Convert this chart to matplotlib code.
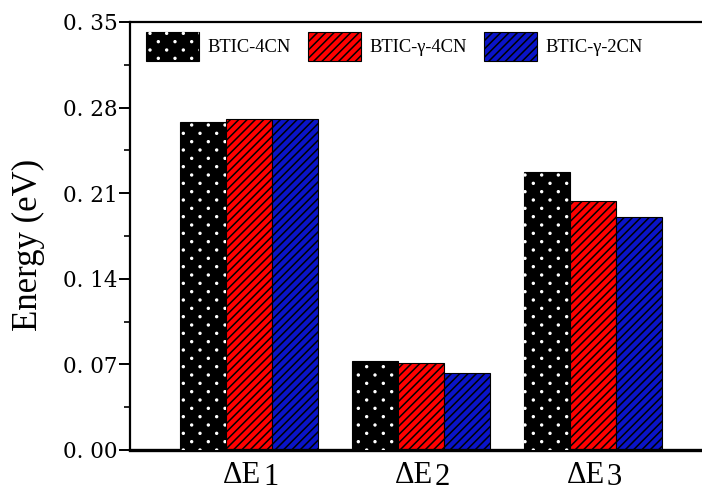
import numpy as np
import matplotlib
matplotlib.use("Agg")
import matplotlib.pyplot as plt
import matplotlib.hatch as mhatch
import matplotlib.transforms as mtransforms
from matplotlib.path import Path
from matplotlib.legend_handler import HandlerTuple
from matplotlib.ticker import MultipleLocator, FuncFormatter

# ---- data ----
categories = ["1", "2", "3"]          # subscripts of ΔE
series_names = ["BTIC-4CN", "BTIC-γ-4CN", "BTIC-γ-2CN"]
btic_4cn = [0.2682, 0.0730, 0.2273]
btic_g4cn = [0.2704, 0.0709, 0.2034]
btic_g2cn = [0.2704, 0.0627, 0.1903]
y_ticks = [0.00, 0.07, 0.14, 0.21, 0.28, 0.35]


# Staggered dot texture: rows at half spacing, alternating half-column shift.
class StaggeredDots(mhatch.HatchPatternBase):
    size = 0.055

    def __init__(self, hatch, density):
        n = hatch.count('.') * density
        self.num_rows = n
        self.circle = Path.unit_circle()
        pts = []
        if n:
            for r in range(2 * n + 1):
                y = r / (2 * n)
                if r % 2 == 0:
                    xs = np.linspace(0, 1, n + 1)
                else:
                    xs = np.linspace(0.5 / n, 1 - 0.5 / n, n)
                for x in xs:
                    pts.append((x, y))
        self.pts = pts
        self.num_vertices = len(pts) * len(self.circle.vertices)

    def set_vertices_and_codes(self, vertices, codes):
        n = self.num_rows
        shape = self.circle.vertices * (1.0 / n) * self.size
        k = len(shape)
        for i, (x, y) in enumerate(self.pts):
            vertices[i * k:(i + 1) * k] = shape + (x, y)
            codes[i * k:(i + 1) * k] = self.circle.codes


mhatch._hatch_types[:] = [StaggeredDots if t is mhatch.SmallFilledCircles else t
                          for t in mhatch._hatch_types]

plt.rcParams['hatch.linewidth'] = 1.1

fig = plt.figure(figsize=(7.02, 4.93), dpi=100)
ax = fig.add_axes([130 / 702, 43 / 493, 582 / 702, 428 / 493])

x = np.arange(len(categories))
w = 0.2674

b1 = ax.bar(x - w, btic_4cn, w, color='black', edgecolor='black', linewidth=0.8, zorder=2)
b1d = ax.bar(x - w, btic_4cn, w, color='none', edgecolor='white', hatch='.', linewidth=0, zorder=3)
b2 = ax.bar(x, btic_g4cn, w, color='#ff0000', edgecolor='black', hatch='////', linewidth=0.8, zorder=2)
b3 = ax.bar(x + w, btic_g2cn, w, color='#0a14c8', edgecolor='black', hatch='////', linewidth=0.8, zorder=2)

ax.set_xlim(-0.692, 2.692)
ax.set_ylim(0, 0.35)

for s in ['left', 'top', 'right']:
    ax.spines[s].set_linewidth(1.6)
ax.spines['bottom'].set_linewidth(2.4)

ax.set_xticks(x)
ax.set_xticklabels([])
ax.tick_params(axis='x', length=0)

ax.set_yticks(y_ticks)
ax.yaxis.set_minor_locator(MultipleLocator(0.035))
ax.yaxis.set_major_formatter(FuncFormatter(lambda v, p: f"{v:.2f}".replace('.', '. ')))
ax.tick_params(axis='y', which='major', direction='out', length=8, width=1.4, pad=1,
               labelsize=15.5)
ax.tick_params(axis='y', which='minor', direction='out', length=4, width=1.2)
for lab in ax.get_yticklabels():
    lab.set_fontfamily('DejaVu Serif')

ax.set_ylabel("Energy (eV)", fontfamily='Liberation Serif', fontsize=25)
ax.yaxis.set_label_coords(-0.146, 0.479)

# category labels: ΔE with a lowered index digit
blend = mtransforms.blended_transform_factory(ax.transData, ax.transAxes)
for xi, c in zip(x, categories):
    t1 = mtransforms.offset_copy(blend, fig=fig, x=-7, y=-33, units='dots')
    ax.text(xi, 0, "ΔE", transform=t1, ha='center', va='baseline',
            fontfamily='Liberation Serif', fontsize=22)
    t2 = mtransforms.offset_copy(blend, fig=fig, x=14, y=-42, units='dots')
    ax.text(xi, 0, c, transform=t2, ha='left', va='bottom',
            fontfamily='Liberation Serif', fontsize=22)

leg = ax.legend([(b1[0], b1d[0]), b2[0], b3[0]], series_names,
                handler_map={tuple: HandlerTuple(ndivide=1, pad=0)},
                loc='upper left', bbox_to_anchor=(12 / 582, 1 - 6 / 428),
                ncol=3, frameon=False, borderaxespad=0, borderpad=0.2,
                handlelength=2.9, handleheight=2.1, handletextpad=0.45,
                columnspacing=0.9,
                prop={'family': 'Liberation Serif', 'size': 13.3})

fig.savefig("out.png", dpi=100)
